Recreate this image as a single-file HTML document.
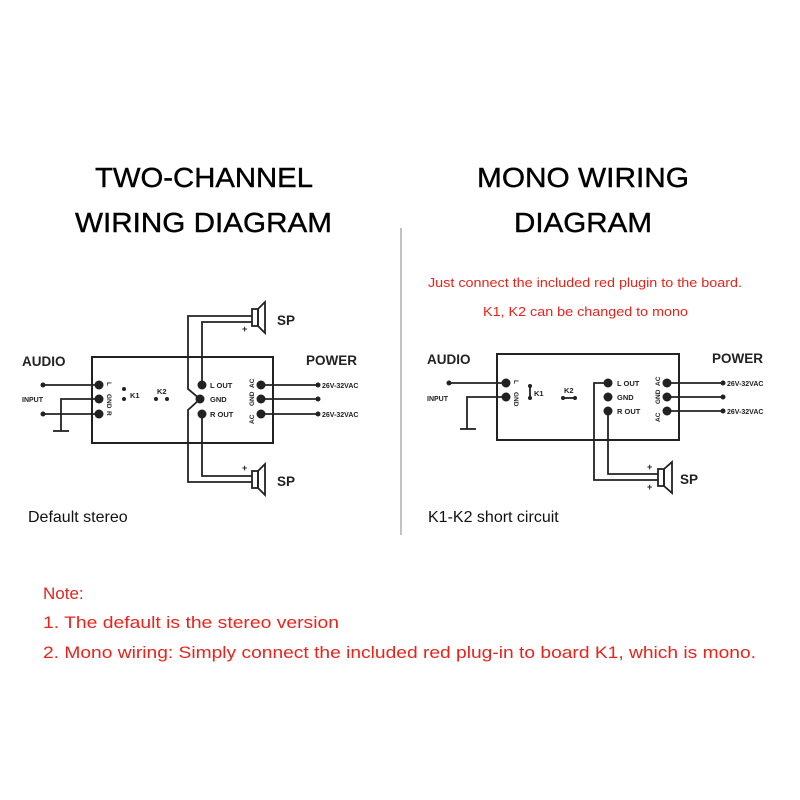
<!DOCTYPE html>
<html><head><meta charset="utf-8"><style>
html,body{margin:0;padding:0;background:#fff;}
svg{display:block;}
text{font-family:"Liberation Sans",Arial,sans-serif;}
</style></head><body>
<svg width="800" height="800" viewBox="0 0 800 800" xmlns="http://www.w3.org/2000/svg">
<rect width="800" height="800" fill="#fff"/>
<g font-size="28" fill="#000" stroke="#000" stroke-width="0.4">
<text x="95" y="187" textLength="218" lengthAdjust="spacingAndGlyphs">TWO-CHANNEL</text>
<text x="75" y="232" textLength="257" lengthAdjust="spacingAndGlyphs">WIRING DIAGRAM</text>
<text x="477" y="187" textLength="212" lengthAdjust="spacingAndGlyphs">MONO WIRING</text>
<text x="514" y="232" textLength="138" lengthAdjust="spacingAndGlyphs">DIAGRAM</text>
</g>
<line x1="401" y1="228" x2="401" y2="535" stroke="#999" stroke-width="1.2"/>
<g font-size="13" fill="#e8231c">
<text x="428" y="287" textLength="314" lengthAdjust="spacingAndGlyphs">Just connect the included red plugin to the board.</text>
<text x="483" y="316" textLength="205" lengthAdjust="spacingAndGlyphs">K1, K2 can be changed to mono</text>
</g>

<!-- LEFT DIAGRAM -->
<g stroke="#222" stroke-width="1.8" fill="none">
<rect x="92" y="357" width="181" height="86" stroke-width="2"/>
<line x1="43" y1="385" x2="99" y2="385"/>
<line x1="43" y1="414" x2="99" y2="414"/>
<polyline points="99,399 61,399 61,431"/>
<line x1="53" y1="431" x2="69" y2="431"/>
<line x1="261" y1="385" x2="318" y2="385"/>
<line x1="261" y1="399" x2="318" y2="399"/>
<line x1="261" y1="414" x2="318" y2="414"/>
<polyline points="252,316 188,316 188,389 200,399 188,410 188,482 252,482"/>
<polyline points="202,385 202,322 252,322"/>
<polyline points="202,414 202,476 252,476"/>
<rect x="252" y="309" width="6" height="17"/>
<polygon points="258,309 265,302 265,333 258,326"/>
<rect x="252" y="471" width="6" height="17"/>
<polygon points="258,471 265,464 265,495 258,488"/>
</g>
<g fill="#222">
<circle cx="43" cy="385" r="2.5"/><circle cx="43" cy="414" r="2.5"/>
<circle cx="99" cy="385" r="4.5"/><circle cx="99" cy="399" r="4.5"/><circle cx="99" cy="414" r="4.5"/>
<circle cx="124" cy="389" r="2"/><circle cx="124" cy="399" r="2"/>
<circle cx="156" cy="399" r="2"/><circle cx="167" cy="399" r="2"/>
<circle cx="202" cy="385" r="4.5"/><circle cx="200" cy="399" r="4.5"/><circle cx="202" cy="414" r="4.5"/>
<circle cx="261" cy="385" r="4.5"/><circle cx="261" cy="399" r="4.5"/><circle cx="261" cy="414" r="4.5"/>
<circle cx="318" cy="385" r="2.5"/><circle cx="318" cy="399" r="2.5"/><circle cx="318" cy="414" r="2.5"/>
</g>
<g fill="#222" font-weight="bold">
<text x="22" y="366" font-size="13.5">AUDIO</text>
<text x="306" y="365" font-size="13.5">POWER</text>
<text x="22" y="402" font-size="7">INPUT</text>
<text x="130" y="398" font-size="7.5">K1</text>
<text x="157" y="394" font-size="7.5">K2</text>
<text x="210" y="388" font-size="7.5">L OUT</text>
<text x="210" y="402" font-size="7.5">GND</text>
<text x="210" y="417" font-size="7.5">R OUT</text>
<text x="322" y="388" font-size="7">26V-32VAC</text>
<text x="322" y="417" font-size="7">26V-32VAC</text>
<text x="277" y="325" font-size="13.5">SP</text>
<text x="277" y="486" font-size="13.5">SP</text>
<text x="242" y="332" font-size="9">+</text>
<text x="242" y="471" font-size="9">+</text>
<text transform="translate(107,382) rotate(90)" font-size="6.5">L</text>
<text transform="translate(107,394) rotate(90)" font-size="6.5">GND</text>
<text transform="translate(107,411) rotate(90)" font-size="6.5">R</text>
<text transform="translate(254,388) rotate(-90)" font-size="6.5">AC</text>
<text transform="translate(254,406) rotate(-90)" font-size="6.5">GND</text>
<text transform="translate(254,424) rotate(-90)" font-size="6.5">AC</text>
</g>

<!-- RIGHT DIAGRAM -->
<g stroke="#222" stroke-width="1.8" fill="none">
<rect x="497" y="354" width="182" height="86" stroke-width="2"/>
<line x1="449" y1="383" x2="506" y2="383"/>
<polyline points="506,397 467,397 467,429"/>
<line x1="460" y1="429" x2="476" y2="429"/>
<line x1="530" y1="386" x2="530" y2="398"/>
<line x1="563" y1="398" x2="575" y2="398"/>
<line x1="667" y1="383" x2="723" y2="383"/>
<line x1="667" y1="397" x2="723" y2="397"/>
<line x1="667" y1="411" x2="723" y2="411"/>
<polyline points="608,383 594,383 594,480 658,480"/>
<polyline points="608,411 608,474 658,474"/>
<rect x="658" y="469" width="6" height="17"/>
<polygon points="664,469 672,462 672,493 664,486"/>
</g>
<g fill="#222">
<circle cx="449" cy="383" r="2.5"/>
<circle cx="506" cy="383" r="4.5"/><circle cx="506" cy="397" r="4.5"/>
<circle cx="530" cy="386" r="2"/><circle cx="530" cy="398" r="2"/>
<circle cx="563" cy="398" r="2"/><circle cx="575" cy="398" r="2"/>
<circle cx="608" cy="383" r="4.5"/><circle cx="608" cy="397" r="4.5"/><circle cx="608" cy="411" r="4.5"/>
<circle cx="667" cy="383" r="4.5"/><circle cx="667" cy="397" r="4.5"/><circle cx="667" cy="411" r="4.5"/>
<circle cx="723" cy="383" r="2.5"/><circle cx="723" cy="397" r="2.5"/><circle cx="723" cy="411" r="2.5"/>
</g>
<g fill="#222" font-weight="bold">
<text x="427" y="364" font-size="13.5">AUDIO</text>
<text x="712" y="363" font-size="13.5">POWER</text>
<text x="427" y="401" font-size="7">INPUT</text>
<text x="534" y="396" font-size="7.5">K1</text>
<text x="564" y="393" font-size="7.5">K2</text>
<text x="617" y="386" font-size="7.5">L OUT</text>
<text x="617" y="400" font-size="7.5">GND</text>
<text x="617" y="414" font-size="7.5">R OUT</text>
<text x="727" y="386" font-size="7">26V-32VAC</text>
<text x="727" y="414" font-size="7">26V-32VAC</text>
<text x="680" y="484" font-size="13.5">SP</text>
<text x="647" y="470" font-size="9">+</text>
<text x="647" y="490" font-size="9">+</text>
<text transform="translate(514,380) rotate(90)" font-size="6.5">L</text>
<text transform="translate(514,392) rotate(90)" font-size="6.5">GND</text>
<text transform="translate(660,386) rotate(-90)" font-size="6.5">AC</text>
<text transform="translate(660,404) rotate(-90)" font-size="6.5">GND</text>
<text transform="translate(660,422) rotate(-90)" font-size="6.5">AC</text>
</g>

<g font-size="16" fill="#111">
<text x="28" y="522">Default stereo</text>
<text x="428" y="522">K1-K2 short circuit</text>
</g>
<g font-size="17" fill="#e8231c">
<text x="43" y="599">Note:</text>
<text x="43" y="628" textLength="296" lengthAdjust="spacingAndGlyphs">1. The default is the stereo version</text>
<text x="43" y="658" textLength="713" lengthAdjust="spacingAndGlyphs">2. Mono wiring: Simply connect the included red plug-in to board K1, which is mono.</text>
</g>
</svg>
</body></html>
